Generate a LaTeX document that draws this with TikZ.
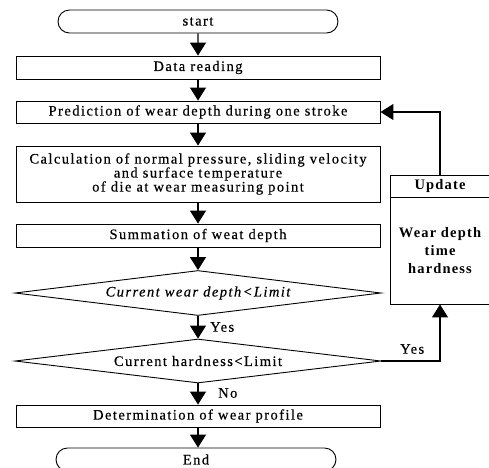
\documentclass[tikz,border=0pt]{standalone}
\usepackage{fontspec}
\setmainfont{Liberation Serif}[LetterSpace=10,FakeBold=0.4]
\newfontfamily\boldface{Liberation Serif Bold}[LetterSpace=8]
\usetikzlibrary{shapes.geometric,shapes.misc,arrows.meta}
\begin{document}
\begin{tikzpicture}[x=1pt,y=-1pt,
  box/.style={draw,line width=0.9pt,minimum width=364pt,minimum height=22pt,inner sep=0pt},
  term/.style={draw,line width=0.9pt,rounded rectangle,minimum width=280pt,minimum height=23pt,inner sep=0pt},
  dec/.style={draw,line width=0.9pt,diamond,aspect=8,minimum width=366pt,minimum height=45pt,inner sep=0pt},
  arr/.style={line width=1.1pt,-{Triangle[width=16pt,length=13pt]}},
  lab/.style={anchor=west,inner sep=0pt},
  upbox/.style={draw,line width=0.9pt,minimum width=100pt,inner sep=0pt,font=\fontsize{14.5}{18}\selectfont\boldface},
  font=\fontsize{14.5}{14}\selectfont]
\useasboundingbox (0,0) rectangle (489,467);
\clip (0,0) rectangle (489,467);
\node[term] (start) at (198,21.5) {start};
\node[box,minimum height=23pt] (data) at (198,67.5) {Data reading};
\node[box] (pred) at (198,112) {Prediction of wear depth during one stroke};
\node[box,minimum height=56pt,align=center] (calc) at (198,174) {Calculation of normal pressure, sliding velocity\\and surface temperature\\of die at wear measuring point};
\node[box,minimum height=23pt] (summ) at (198,235.5) {Summation of weat depth};
\node[dec] (d1) at (198,293) {\itshape Current wear depth<Limit};
\node[dec,minimum height=44pt] (d2) at (198,361) {Current hardness<Limit};
\node[box] (det) at (198,416) {Determination of wear profile};
\node[term] (end) at (196,459.5) {End};
\node[upbox,minimum height=22pt] (updh) at (440,186) {Update};
\node[upbox,minimum height=107pt,align=center] (updb) at (440,250.5) {Wear depth\\time\\hardness};
\node[lab] (yes1) at (210,327) {Yes};
\node[lab] (no) at (218,393) {No};
\node[lab] (yes2) at (400,349) {Yes};
\draw[arr] (start) -- (data);
\draw[arr] (data) -- (pred);
\draw[arr] (pred) -- (calc);
\draw[arr] (calc) -- (summ);
\draw[arr] (summ) -- (d1);
\draw[arr] (d1) -- (d2);
\draw[arr] (d2) -- (det);
\draw[arr] (det.south) -- (end.north -| det.south);
\draw[arr] (updh.north) |- (pred.east);
\draw[arr] (d2.east) -| (updb.south);
\end{tikzpicture}
\end{document}
